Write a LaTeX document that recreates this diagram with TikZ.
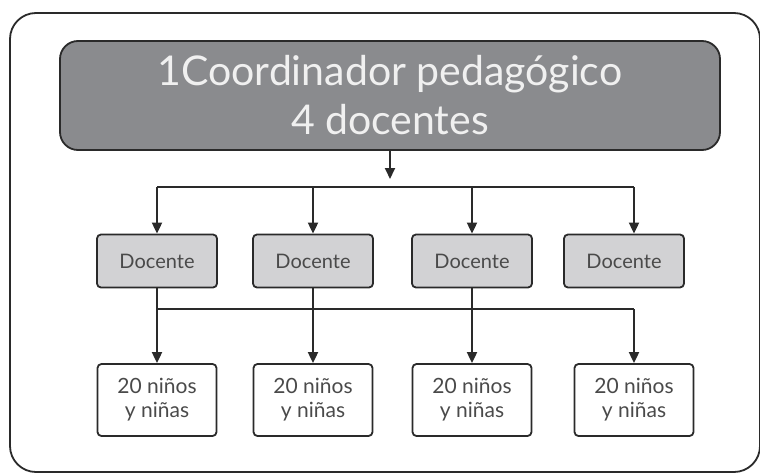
\documentclass[tikz,border=0pt]{standalone}
\usepackage{fontspec}
\setmainfont{Lato}
\usetikzlibrary{arrows.meta}
\definecolor{topgray}{HTML}{8A8B8E}
\definecolor{midgray}{HTML}{D2D2D4}
\definecolor{ink}{HTML}{2A2A2A}
\tikzset{
  frame/.style={draw=ink, line width=1.8pt, rounded corners=26pt},
  topbox/.style={draw=ink, fill=topgray, line width=1.8pt, rounded corners=18pt,
    minimum width=660pt, minimum height=109pt, inner sep=0pt, text=white!94!black,
    align=center, font=\fontsize{41}{49}\selectfont},
  docbox/.style={draw=ink, fill=midgray, line width=1.8pt, rounded corners=4pt,
    minimum width=120pt, minimum height=53pt, inner sep=0pt, text=ink!85,
    font=\fontsize{20}{24}\selectfont},
  kidbox/.style={draw=ink, fill=white, line width=1.8pt, rounded corners=4pt,
    minimum width=119pt, minimum height=72pt, inner sep=0pt, text=ink!85,
    align=center, font=\fontsize{21}{24}\selectfont},
  conn/.style={draw=ink, line width=1.9pt},
  arr/.style={conn, -{Triangle[length=11pt,width=10pt]}}
}
\begin{document}
\begin{tikzpicture}[x=1pt,y=-1pt]
\useasboundingbox (0,0) rectangle (760,474);
\draw[frame] (10,13) rectangle (760,472);
\node[topbox] (top) at (390,95.5) {1Coordinador pedagógico\\4 docentes};
\node[docbox] (d1) at (157,261) {Docente};
\node[docbox] (d2) at (313,261) {Docente};
\node[docbox] (d3) at (472,261) {Docente};
\node[docbox] (d4) at (624,261) {Docente};
\node[kidbox] (k1) at (157,400) {20 niños\\y niñas};
\node[kidbox] (k2) at (313,400) {20 niños\\y niñas};
\node[kidbox] (k3) at (472,400) {20 niños\\y niñas};
\node[kidbox] (k4) at (634,400) {20 niños\\y niñas};
\coordinate (tapA) at (390,179);
\coordinate (busL) at (157,187);
\coordinate (busR) at (634,187);
\draw[arr] (top.south) -- (tapA);
\draw[conn] (busL) -- (busR);
\draw[arr] (busL) -- (d1.north);
\draw[arr] (d2.north |- busL) -- (d2.north);
\draw[arr] (d3.north |- busL) -- (d3.north);
\draw[arr] (busR) -- (d4.north -| busR);
\coordinate (lbL) at (157,309);
\coordinate (lbR) at (634,309);
\draw[conn] (lbL) -- (lbR);
\draw[arr] (d1.south) -- (k1.north);
\draw[arr] (d2.south) -- (k2.north);
\draw[arr] (d3.south) -- (k3.north);
\draw[arr] (lbR) -- (k4.north);
\end{tikzpicture}
\end{document}
